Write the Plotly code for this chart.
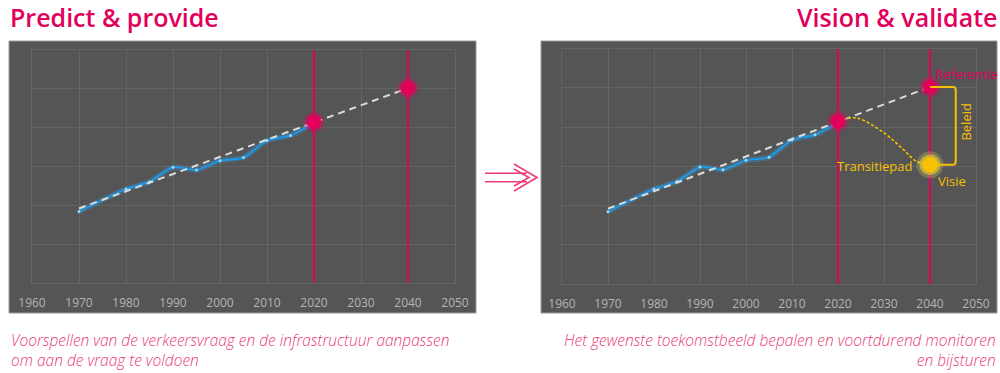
import plotly.graph_objects as go

# ---------------- data ----------------
years_hist = [1970, 1980, 1985, 1990, 1995, 2000, 2005, 2010, 2015, 2019]
values_hist = [1.84, 2.42, 2.61, 2.98, 2.91, 3.15, 3.23, 3.67, 3.80, 4.05]
trend_years = [1970, 2040]
trend_values = [1.92, 5.02]
now_year, now_value = 2020, 4.14
target_year, ref_value = 2040, 5.02
vision_value = 3.04
path_years = [2020, 2024, 2030, 2034, 2037, 2040]
path_values = [4.14, 4.23, 3.85, 3.45, 3.13, 3.04]
tick_years = [1960, 1970, 1980, 1990, 2000, 2010, 2020, 2030, 2040, 2050]

titles = ["Predict & provide", "Vision & validate"]
captions = [
    "Voorspellen van de verkeersvraag en de infrastructuur aanpassen<br>om aan de vraag te voldoen",
    "Het gewenste toekomstbeeld bepalen en voortdurend monitoren<br>en bijsturen",
]

# ---------------- styles ----------------
PINK = "#e3005b"
CAP_PINK = "#ea3a76"
YELLOW = "#f7c000"
BLUE = "#1a9af0"
PANEL = "#555555"
GRID = "#646464"
TICK = "#b4b4b4"
FONT = "Open Sans"
W, H = 1000, 373


def px(x):
    return x / W


def py(y):
    return 1 - y / H


fig = go.Figure()

axes = [("x", "y"), ("x2", "y2")]
for i, (xa, ya) in enumerate(axes):
    # blue history with glow
    fig.add_trace(go.Scatter(x=years_hist, y=values_hist, xaxis=xa, yaxis=ya, mode="lines",
                             line=dict(color="rgba(40,180,255,0.25)", width=5.5, shape="spline", smoothing=0.6),
                             hoverinfo="skip", showlegend=False))
    fig.add_trace(go.Scatter(x=years_hist, y=values_hist, xaxis=xa, yaxis=ya, mode="lines+markers",
                             line=dict(color=BLUE, width=1.8, shape="spline", smoothing=0.6),
                             marker=dict(size=3, color="#9ad8ff"), showlegend=False))
    # dashed trend
    fig.add_trace(go.Scatter(x=trend_years, y=trend_values, xaxis=xa, yaxis=ya, mode="lines",
                             line=dict(color="#dcdcdc", width=2, dash="7px,5px"), showlegend=False))
    if i == 1:
        fig.add_trace(go.Scatter(x=path_years, y=path_values, xaxis=xa, yaxis=ya, mode="lines",
                                 line=dict(color=YELLOW, width=1.6, dash="3px,2px", shape="spline", smoothing=1.0),
                                 showlegend=False))
    # vertical lines
    for yr in (now_year, target_year):
        fig.add_trace(go.Scatter(x=[yr, yr], y=[0, 6], xaxis=xa, yaxis=ya, mode="lines",
                                 line=dict(color=PINK, width=2), showlegend=False))
    # pink markers with glow
    for sz, col in [(22, "rgba(235,0,95,0.18)"), (18, "rgba(235,0,95,0.35)"), (14, PINK)]:
        fig.add_trace(go.Scatter(x=[now_year, target_year], y=[now_value, ref_value], xaxis=xa, yaxis=ya,
                                 mode="markers", marker=dict(size=sz, color=col), showlegend=False))
    if i == 1:
        for sz, col in [(27, "rgba(255,245,90,0.22)"), (21, "rgba(255,238,60,0.45)"), (16, YELLOW)]:
            fig.add_trace(go.Scatter(x=[target_year], y=[vision_value], xaxis=xa, yaxis=ya,
                                     mode="markers", marker=dict(size=sz, color=col), showlegend=False))

axis_common = dict(showgrid=True, gridcolor=GRID, gridwidth=1, showline=True, linecolor=GRID,
                   linewidth=1, mirror=True, zeroline=False, automargin=False)

fig.update_layout(
    width=W, height=H, margin=dict(l=0, r=0, t=0, b=0, autoexpand=False), autosize=False,
    paper_bgcolor="white", plot_bgcolor=PANEL, showlegend=False,
    font=dict(family=FONT),
    xaxis=dict(domain=[px(32), px(455)], range=[1960, 2050], tickvals=tick_years, anchor="y",
               ticks="outside", ticklen=9, tickcolor="rgba(0,0,0,0)",
               tickfont=dict(size=12, color=TICK, family=FONT), **axis_common),
    yaxis=dict(domain=[py(283), py(50)], range=[0, 6], dtick=1, showticklabels=False, anchor="x",
               **axis_common),
    xaxis2=dict(domain=[px(562), px(976)], range=[1960, 2050], tickvals=tick_years, anchor="y2",
                ticks="outside", ticklen=9, tickcolor="rgba(0,0,0,0)",
                tickfont=dict(size=12, color=TICK, family=FONT), **axis_common),
    yaxis2=dict(domain=[py(284), py(48.5)], range=[0, 6], dtick=1, showticklabels=False, anchor="x2",
                **axis_common),
)

# panels
shapes = []
for (x0, x1) in [(9, 476), (541, 997)]:
    shapes.append(dict(type="rect", xref="paper", yref="paper", x0=px(x0), x1=px(x1), y0=py(313), y1=py(41),
                       fillcolor=PANEL, line=dict(color="#9a9a9a", width=1), layer="below"))

# bracket (Beleid)
bx = target_year + 5.6
shapes.append(dict(type="path", xref="x2", yref="y2",
                   path=f"M {target_year},{ref_value} L {bx - 0.5},{ref_value} Q {bx},{ref_value} {bx},{ref_value - 0.1} "
                        f"L {bx},{vision_value + 0.1} Q {bx},{vision_value} {bx - 0.5},{vision_value} L {target_year},{vision_value}",
                   line=dict(color=YELLOW, width=2), layer="above"))

# arrow between panels
AP = "#ee3a78"
for yy in (173.3, 181.7):
    shapes.append(dict(type="line", xref="paper", yref="paper", x0=px(485), x1=px(527), y0=py(yy), y1=py(yy),
                       line=dict(color=AP, width=1.6)))
shapes.append(dict(type="path", xref="paper", yref="paper",
                   path=f"M {px(514)},{py(164)} L {px(537)},{py(177.5)} L {px(514)},{py(191)}",
                   line=dict(color=AP, width=1.6)))
shapes.append(dict(type="path", xref="paper", yref="paper",
                   path=f"M {px(514)},{py(169)} L {px(529)},{py(177.5)} L {px(514)},{py(186)}",
                   line=dict(color=AP, width=1.6)))
fig.update_layout(shapes=shapes)

ann = []
# titles
ann.append(dict(text=titles[0], xref="paper", yref="paper", x=px(8), y=py(16.5), xanchor="left", yanchor="middle",
                showarrow=False, font=dict(size=25, color=PINK, family=FONT, weight=600)))
ann.append(dict(text=titles[1], xref="paper", yref="paper", x=px(999), y=py(16.5), xanchor="right", yanchor="middle",
                showarrow=False, font=dict(size=25, color=PINK, family=FONT, weight=600)))
# captions
cap_font = dict(size=15.5, color=CAP_PINK, family=FONT, style="italic", weight=300)
ann.append(dict(text=captions[0], xref="paper", yref="paper", x=px(9), y=py(350), xanchor="left",
                yanchor="middle", align="left", showarrow=False, font=cap_font))
ann.append(dict(text=captions[1], xref="paper", yref="paper", x=px(998), y=py(350), xanchor="right",
                yanchor="middle", align="right", showarrow=False, font=cap_font))
# right chart labels
ann.append(dict(text="Referentie", xref="x2", yref="y2", x=target_year, y=ref_value, xanchor="left",
                yanchor="middle", xshift=3, yshift=13, showarrow=False, font=dict(size=13, color=PINK, family=FONT)))
ann.append(dict(text="Beleid", xref="x2", yref="y2", x=bx, y=(ref_value + vision_value) / 2, xanchor="center",
                yanchor="middle", xshift=10, yshift=4, textangle=-90, showarrow=False,
                font=dict(size=13, color=YELLOW, family=FONT)))
ann.append(dict(text="Transitiepad", xref="x2", yref="y2", x=target_year, y=vision_value, xanchor="right",
                yanchor="middle", xshift=-15, yshift=-1, showarrow=False, font=dict(size=13, color=YELLOW, family=FONT)))
ann.append(dict(text="Visie", xref="x2", yref="y2", x=target_year, y=vision_value, xanchor="left",
                yanchor="middle", xshift=6, yshift=-16, showarrow=False, font=dict(size=13, color=YELLOW, family=FONT)))
fig.update_layout(annotations=ann)

fig.write_html("out.html", config={"displayModeBar": False},
               post_script="document.body.style.margin='0';document.body.style.overflow='hidden';")
